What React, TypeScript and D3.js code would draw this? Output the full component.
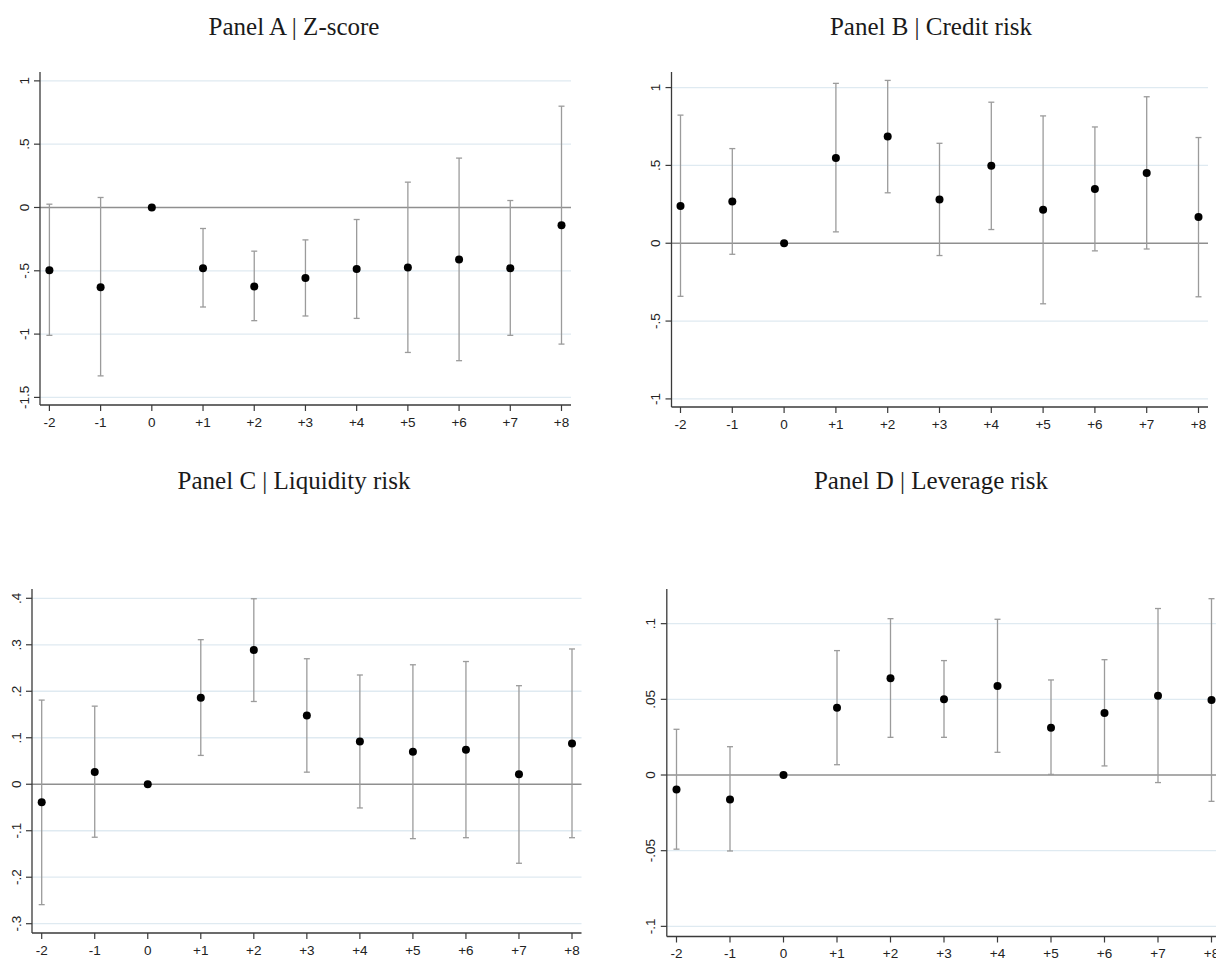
import * as d3 from 'd3';

const W = 1216;
const H = 958;

const periods = [-2, -1, 0, 1, 2, 3, 4, 5, 6, 7, 8];
const periodLabels = ['-2', '-1', '0', '+1', '+2', '+3', '+4', '+5', '+6', '+7', '+8'];

// Panel A | Z-score
const zCoef = [-0.496, -0.63, 0, -0.48, -0.625, -0.556, -0.485, -0.475, -0.411, -0.48, -0.14];
const zLo = [-1.01, -1.33, null, -0.786, -0.894, -0.857, -0.876, -1.145, -1.21, -1.01, -1.079];
const zHi = [0.026, 0.079, null, -0.166, -0.345, -0.256, -0.095, 0.2, 0.39, 0.055, 0.8];
const zTicks = [1, 0.5, 0, -0.5, -1, -1.5];

// Panel B | Credit risk
const creditCoef = [0.24, 0.268, 0, 0.548, 0.685, 0.281, 0.498, 0.215, 0.348, 0.451, 0.168];
const creditLo = [-0.341, -0.071, null, 0.073, 0.324, -0.079, 0.088, -0.389, -0.049, -0.037, -0.344];
const creditHi = [0.823, 0.608, null, 1.027, 1.046, 0.642, 0.906, 0.818, 0.747, 0.941, 0.679];
const creditTicks = [1, 0.5, 0, -0.5, -1];

// Panel C | Liquidity risk
const liqCoef = [-0.0387, 0.0265, 0, 0.186, 0.289, 0.148, 0.092, 0.07, 0.074, 0.0215, 0.0875];
const liqLo = [-0.259, -0.114, null, 0.062, 0.178, 0.026, -0.051, -0.117, -0.115, -0.17, -0.115];
const liqHi = [0.181, 0.168, null, 0.311, 0.399, 0.27, 0.235, 0.257, 0.264, 0.212, 0.291];
const liqTicks = [0.4, 0.3, 0.2, 0.1, 0, -0.1, -0.2, -0.3];

// Panel D | Leverage risk
const levCoef = [-0.0095, -0.0161, 0, 0.0445, 0.0639, 0.05, 0.0588, 0.0313, 0.041, 0.0524, 0.0496];
const levLo = [-0.049, -0.0502, null, 0.0068, 0.0249, 0.0249, 0.015, 0.0004, 0.006, -0.005, -0.0174];
const levHi = [0.0302, 0.0187, null, 0.0822, 0.1033, 0.0756, 0.1029, 0.0628, 0.0762, 0.11, 0.1165];
const levTicks = [0.1, 0.05, 0, -0.05, -0.1];

// stata style: drop the leading zero (.5, -.05)
const stataFmt = (v: number) => {
  if (v === 0) return '0';
  return String(+v.toFixed(4)).replace(/^(-?)0\./, '$1.');
};

const panels = [
  {
    title: 'Panel A | Z-score', titleX: 294, titleY: 35,
    coef: zCoef, lo: zLo, hi: zHi, ticks: zTicks,
    yDomain: [-1.56, 1.07], yRange: [405, 72],
    xFirst: 49.4, xLast: 561.5, axisLeft: 40, axisRight: 571,
  },
  {
    title: 'Panel B | Credit risk', titleX: 931, titleY: 35,
    coef: creditCoef, lo: creditLo, hi: creditHi, ticks: creditTicks,
    yDomain: [-1.052, 1.1], yRange: [407, 72],
    xFirst: 680.5, xLast: 1198.5, axisLeft: 671.5, axisRight: 1208,
  },
  {
    title: 'Panel C | Liquidity risk', titleX: 294, titleY: 489,
    coef: liqCoef, lo: liqLo, hi: liqHi, ticks: liqTicks,
    yDomain: [-0.32, 0.42], yRange: [933, 589],
    xFirst: 41.7, xLast: 572, axisLeft: 32, axisRight: 581.5,
  },
  {
    title: 'Panel D | Leverage risk', titleX: 931, titleY: 489,
    coef: levCoef, lo: levLo, hi: levHi, ticks: levTicks,
    yDomain: [-0.1067, 0.1229], yRange: [936.5, 589],
    xFirst: 676.5, xLast: 1211.5, axisLeft: 666.8, axisRight: 1222,
  },
];

function Panel({ p }: { p: any }) {
  const x = d3.scaleLinear().domain([periods[0], periods[periods.length - 1]]).range([p.xFirst, p.xLast]);
  const y = d3.scaleLinear().domain(p.yDomain).range(p.yRange);
  const axisY = p.yRange[0];
  const tickFont = '"Liberation Sans", Arial, sans-serif';

  return (
    <g>
      <text
        x={p.titleX}
        y={p.titleY}
        textAnchor="middle"
        fontFamily='"Liberation Serif", "Times New Roman", serif'
        fontSize={25}
        fill="#1a1a1a"
      >
        {p.title}
      </text>

      {/* grid */}
      {p.ticks.filter((t: number) => t !== 0).map((t: number) => (
        <line key={'g' + t} x1={p.axisLeft} x2={p.axisRight} y1={y(t)} y2={y(t)} stroke="#dfeaf1" strokeWidth={1.3} />
      ))}
      <line x1={p.axisLeft} x2={p.axisRight} y1={y(0)} y2={y(0)} stroke="#8f8f8f" strokeWidth={1.4} />

      {/* error bars */}
      {periods.map((d, i) => {
        if (p.lo[i] == null || p.hi[i] == null) return null;
        const cx = x(d);
        return (
          <g key={'e' + d} stroke="#9b9b9b" strokeWidth={1.3}>
            <line x1={cx} x2={cx} y1={y(p.lo[i])} y2={y(p.hi[i])} />
            <line x1={cx - 3} x2={cx + 3} y1={y(p.lo[i])} y2={y(p.lo[i])} />
            <line x1={cx - 3} x2={cx + 3} y1={y(p.hi[i])} y2={y(p.hi[i])} />
          </g>
        );
      })}

      {/* points */}
      {periods.map((d, i) => (
        <circle key={'c' + d} cx={x(d)} cy={y(p.coef[i])} r={4} fill="#000" />
      ))}

      {/* y axis */}
      <line x1={p.axisLeft} x2={p.axisLeft} y1={p.yRange[1]} y2={axisY} stroke="#3a3a3a" strokeWidth={1.3} />
      {p.ticks.map((t: number) => (
        <g key={'yt' + t}>
          <line x1={p.axisLeft - 6} x2={p.axisLeft} y1={y(t)} y2={y(t)} stroke="#3a3a3a" strokeWidth={1.2} />
          <text
            transform={`translate(${p.axisLeft - 11.5},${y(t)}) rotate(-90)`}
            textAnchor="middle"
            fontFamily={tickFont}
            fontSize={13.5}
            fill="#222"
          >
            {stataFmt(t)}
          </text>
        </g>
      ))}

      {/* x axis */}
      <line x1={p.axisLeft} x2={p.axisRight} y1={axisY} y2={axisY} stroke="#3a3a3a" strokeWidth={1.3} />
      {periods.map((d, i) => (
        <g key={'xt' + d}>
          <line x1={x(d)} x2={x(d)} y1={axisY} y2={axisY + 6} stroke="#3a3a3a" strokeWidth={1.2} />
          <text x={x(d)} y={axisY + 21.5} textAnchor="middle" fontFamily={tickFont} fontSize={13.5} fill="#222">
            {periodLabels[i]}
          </text>
        </g>
      ))}
    </g>
  );
}

export default function App() {
  return (
    <svg
      width={W}
      height={H}
      viewBox={`0 0 ${W} ${H}`}
      style={{ position: 'absolute', left: 0, top: 0, background: '#fff' }}
    >
      <rect width={W} height={H} fill="#fff" />
      {panels.map((p) => (
        <Panel key={p.title} p={p} />
      ))}
    </svg>
  );
}
